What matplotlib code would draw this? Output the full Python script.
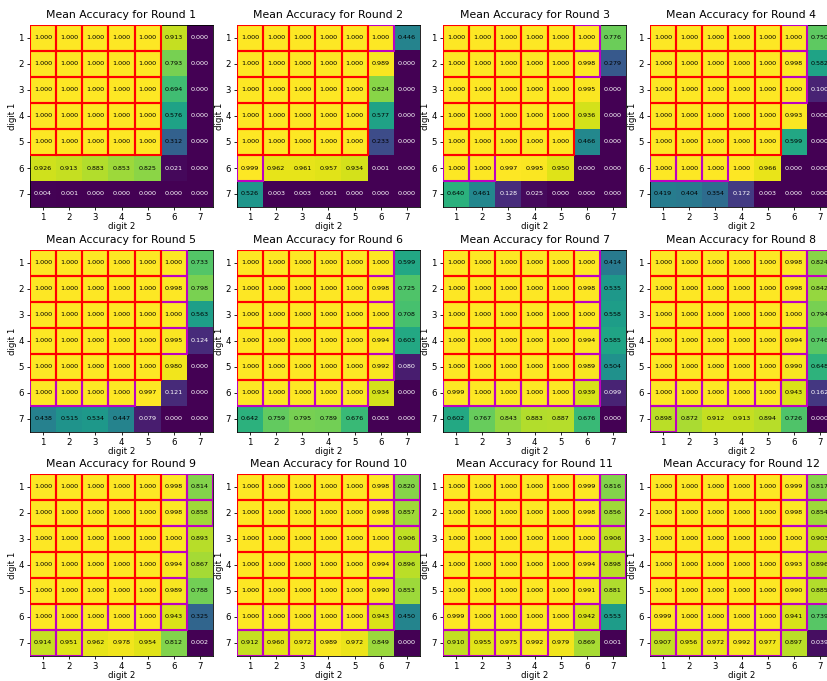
import matplotlib
matplotlib.use("Agg")
import matplotlib.pyplot as plt
from matplotlib.patches import Rectangle
import numpy as np

digits = [1, 2, 3, 4, 5, 6, 7]
round_names = [f"Mean Accuracy for Round {r}" for r in range(1, 13)]

ONE = [1.000, 1.000, 1.000, 1.000, 1.000]

# Mean accuracy per (digit 1, digit 2) pair, one 7x7 grid per round
round_01 = [ONE + [0.913, 0.000], ONE + [0.793, 0.000], ONE + [0.694, 0.000],
            ONE + [0.576, 0.000], ONE + [0.312, 0.000],
            [0.926, 0.913, 0.883, 0.853, 0.825, 0.021, 0.000],
            [0.004, 0.001, 0.000, 0.000, 0.000, 0.000, 0.000]]
round_02 = [ONE + [1.000, 0.446], ONE + [0.989, 0.000], ONE + [0.824, 0.000],
            ONE + [0.577, 0.000], ONE + [0.233, 0.000],
            [0.999, 0.962, 0.961, 0.957, 0.934, 0.001, 0.000],
            [0.526, 0.003, 0.003, 0.001, 0.000, 0.000, 0.000]]
round_03 = [ONE + [1.000, 0.776], ONE + [0.998, 0.279], ONE + [0.995, 0.000],
            ONE + [0.936, 0.000], ONE + [0.466, 0.000],
            [1.000, 1.000, 0.997, 0.995, 0.950, 0.000, 0.000],
            [0.640, 0.461, 0.128, 0.025, 0.000, 0.000, 0.000]]
round_04 = [ONE + [1.000, 0.750], ONE + [0.998, 0.582], ONE + [1.000, 0.100],
            ONE + [0.993, 0.000], ONE + [0.599, 0.000],
            [1.000, 1.000, 1.000, 1.000, 0.966, 0.000, 0.000],
            [0.419, 0.404, 0.354, 0.172, 0.003, 0.000, 0.000]]
round_05 = [ONE + [1.000, 0.733], ONE + [0.998, 0.798], ONE + [1.000, 0.563],
            ONE + [0.995, 0.124], ONE + [0.980, 0.000],
            [1.000, 1.000, 1.000, 1.000, 0.997, 0.121, 0.000],
            [0.438, 0.515, 0.534, 0.447, 0.079, 0.000, 0.000]]
round_06 = [ONE + [1.000, 0.599], ONE + [0.998, 0.725], ONE + [1.000, 0.708],
            ONE + [0.994, 0.603], ONE + [0.992, 0.080],
            [1.000, 1.000, 1.000, 1.000, 1.000, 0.934, 0.000],
            [0.642, 0.759, 0.795, 0.789, 0.676, 0.003, 0.000]]
round_07 = [ONE + [1.000, 0.414], ONE + [0.998, 0.535], ONE + [1.000, 0.558],
            ONE + [0.994, 0.585], ONE + [0.989, 0.504],
            [0.999, 1.000, 1.000, 1.000, 1.000, 0.939, 0.099],
            [0.602, 0.767, 0.843, 0.883, 0.887, 0.676, 0.000]]
round_08 = [ONE + [0.998, 0.824], ONE + [0.998, 0.842], ONE + [1.000, 0.794],
            ONE + [0.994, 0.746], ONE + [0.990, 0.648],
            [1.000, 1.000, 1.000, 1.000, 1.000, 0.943, 0.162],
            [0.898, 0.872, 0.912, 0.913, 0.894, 0.726, 0.000]]
round_09 = [ONE + [0.998, 0.814], ONE + [0.998, 0.858], ONE + [1.000, 0.893],
            ONE + [0.994, 0.867], ONE + [0.989, 0.788],
            [1.000, 1.000, 1.000, 1.000, 1.000, 0.943, 0.325],
            [0.914, 0.951, 0.962, 0.978, 0.954, 0.812, 0.002]]
round_10 = [ONE + [0.998, 0.820], ONE + [0.998, 0.857], ONE + [1.000, 0.906],
            ONE + [0.994, 0.896], ONE + [0.990, 0.853],
            [1.000, 1.000, 1.000, 1.000, 1.000, 0.943, 0.450],
            [0.912, 0.960, 0.972, 0.989, 0.972, 0.849, 0.000]]
round_11 = [ONE + [0.999, 0.816], ONE + [0.998, 0.856], ONE + [1.000, 0.906],
            ONE + [0.994, 0.898], ONE + [0.991, 0.881],
            [0.999, 1.000, 1.000, 1.000, 1.000, 0.942, 0.553],
            [0.910, 0.955, 0.975, 0.992, 0.979, 0.869, 0.001]]
round_12 = [ONE + [0.999, 0.817], ONE + [0.998, 0.854], ONE + [1.000, 0.903],
            ONE + [0.993, 0.896], ONE + [0.990, 0.885],
            [0.999, 1.000, 1.000, 1.000, 1.000, 0.941, 0.739],
            [0.907, 0.956, 0.972, 0.992, 0.977, 0.897, 0.039]]

rounds = [round_01, round_02, round_03, round_04, round_05, round_06,
          round_07, round_08, round_09, round_10, round_11, round_12]

# Base training pairs (digits 1-5 x 1-5)
base_pairs = [(a, b) for a in range(1, 6) for b in range(1, 6)]
# Pairs newly added to the curriculum at each round
added_pairs = [[], [(1, 6), (6, 1)], [(2, 6), (6, 2)], [(3, 6), (6, 3)],
               [(4, 6), (6, 4)], [(5, 6), (6, 5)], [(6, 6)],
               [(1, 7), (7, 1)], [(2, 7), (7, 2)], [(3, 7), (7, 3)],
               [(4, 7), (7, 4)], [(5, 7), (7, 5)]]

W, H = 828, 681
fig = plt.figure(figsize=(W / 100, H / 100), dpi=100)

col_left = [30, 237, 443, 650]
row_top = [25, 250, 474]
aw, ah = 183, 182

for k, grid in enumerate(rounds):
    r, c = divmod(k, 4)
    x0 = col_left[c] / W
    y0 = 1 - (row_top[r] + ah) / H
    ax = fig.add_axes([x0, y0, aw / W, ah / H])
    data = np.array(grid)
    ax.imshow(data, cmap="viridis", vmin=0, vmax=1,
              extent=(0.5, 7.5, 7.5, 0.5), interpolation="nearest", aspect="auto")
    for i, d1 in enumerate(digits):
        for j, d2 in enumerate(digits):
            v = data[i, j]
            ax.text(d2, d1, f"{v:.3f}", ha="center", va="center",
                    fontsize=4.6, color="white" if v < 0.2 else "black")
    extra = [p for step in added_pairs[:k + 1] for p in step]
    for (a, b) in extra:
        ax.add_patch(Rectangle((b - 0.5, a - 0.5), 1, 1, fill=False,
                               edgecolor="m", lw=1.5, zorder=3))
    for (a, b) in base_pairs:
        ax.add_patch(Rectangle((b - 0.5, a - 0.5), 1, 1, fill=False,
                               edgecolor="r", lw=1.5, zorder=4))
    ax.set_xlim(0.5, 7.5)
    ax.set_ylim(7.5, 0.5)
    ax.set_xticks(digits)
    ax.set_yticks(digits)
    ax.tick_params(labelsize=6.2, length=2.5, width=0.6, pad=2)
    for s in ax.spines.values():
        s.set_linewidth(0.6)
    ax.set_xlabel("digit 2", fontsize=6.2, labelpad=0)
    ax.set_ylabel("digit 1", fontsize=6.2, labelpad=1)
    ax.set_title(round_names[k], fontsize=7.8, pad=5)

fig.savefig("out.png", dpi=100)
